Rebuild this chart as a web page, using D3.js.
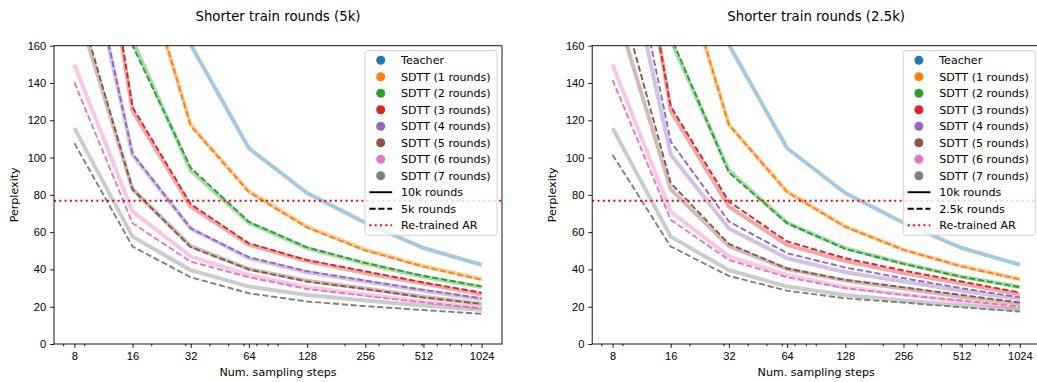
<!DOCTYPE html>
<html lang="en">
<head>
<meta charset="utf-8">
<title>Shorter train rounds</title>
<script src="https://d3js.org/d3.v7.min.js"></script>
<style>
  body { margin: 0; background: #fff; }
  svg { display: block; font-family: "DejaVu Sans", sans-serif; }
  .axis .domain { display: none; }
  .axis text { font-size: 11.1px; fill: #000; }
  .axis line { stroke: #000; stroke-width: 0.9; }
</style>
</head>
<body>
<div id="chart"></div>
<script>
// sampling steps (x) and values
var steps = [8, 16, 32, 64, 128, 256, 512, 1024];
var minorTicks = [7, 9, 20, 30, 40, 50, 60, 70, 80, 90, 200, 300, 400, 500, 600, 700, 800, 900];
var yTicks = [0, 20, 40, 60, 80, 100, 120, 140, 160];

var teacher = [450, 270, 160.5, 105, 81, 65, 51.5, 42.5];

// SDTT 1..7 rounds, 10k rounds (solid, same in both panels)
var sdtt10k = [
  [380, 220, 117.6, 81.8, 63, 50.6, 41.8, 34.8],
  [330, 163, 93, 65, 51.4, 43.2, 36.1, 30.6],
  [314, 125, 73.7, 53.2, 44.5, 38, 32.4, 26.6],
  [243, 101.5, 62, 46, 38.5, 33.5, 28.6, 24],
  [185, 83, 52.5, 40.2, 34, 29.8, 25.3, 21.5],
  [149.8, 71, 47, 37, 30.5, 26.5, 22.8, 19.3],
  [115.8, 57.6, 39.6, 30.8, 26.3, 23.3, 20.6, 18.3]
];

// 5k rounds (dashed, left panel)
var sdtt5k = [
  [390, 222, 117, 81.5, 62.5, 50.2, 41.5, 34.5],
  [340, 160, 94.5, 65.5, 51.8, 43.5, 36.5, 30.9],
  [320, 127, 75, 54, 45, 39, 33, 27.5],
  [245, 102, 62, 46.5, 39, 34, 29, 24.5],
  [190, 83, 52, 40, 33.5, 29.5, 25, 21.5],
  [140.3, 64.8, 44.2, 35.8, 29.5, 25.8, 22.3, 19.2],
  [107.7, 52.3, 35.8, 27.2, 22.8, 20.3, 18.2, 16.2]
];

// 2.5k rounds (dashed, right panel)
var sdtt25k = [
  [390, 222, 117.6, 81.5, 62.8, 50.5, 41.6, 34.6],
  [340, 165, 92, 64.8, 51, 43, 36, 30.5],
  [300, 127.4, 76.4, 55, 46, 39.4, 33.5, 27.6],
  [260, 108.6, 65.7, 48.7, 41, 35.3, 29.9, 25],
  [200, 86.3, 53.7, 40.5, 34.4, 30.4, 26.3, 22.2],
  [141.7, 66.6, 45.1, 35.8, 29.9, 26.3, 23.3, 20],
  [101.5, 52.3, 36.5, 28.6, 24.5, 22.2, 19.7, 17.4]
];

var retrainedAR = 76.8;

var labels = ["Teacher", "SDTT (1 rounds)", "SDTT (2 rounds)", "SDTT (3 rounds)", "SDTT (4 rounds)",
              "SDTT (5 rounds)", "SDTT (6 rounds)", "SDTT (7 rounds)"];
var colors = ["#1f77b4", "#ff7f0e", "#2ca02c", "#d62728", "#9467bd", "#8c564b", "#e377c2", "#7f7f7f"];

var width = 1037, height = 382;
var svg = d3.select("#chart").append("svg")
  .attr("width", width)
  .attr("height", height);

var top_ = 45.7, bottom = 344, panelW = 448;

function drawPanel(x0, title, dashed, dashLabel, id) {
  var pad = Math.pow(2, 0.35);
  var x = d3.scaleLog().base(2).domain([8 / pad, 1024 * pad]).range([0, panelW]);
  var y = d3.scaleLinear().domain([0, 160]).range([bottom - top_, 0]);
  var innerH = bottom - top_;

  var g = svg.append("g").attr("transform", "translate(" + x0 + "," + top_ + ")");

  g.append("clipPath").attr("id", "clip" + id)
    .append("rect").attr("width", panelW).attr("height", innerH);

  var line = d3.line().x((d, i) => x(steps[i])).y(d => y(d));
  var plot = g.append("g").attr("clip-path", "url(#clip" + id + ")");

  plot.append("path")
    .attr("d", line(teacher))
    .attr("fill", "none")
    .attr("stroke", colors[0])
    .attr("stroke-opacity", 0.4)
    .attr("stroke-width", 4)
    .attr("stroke-linejoin", "round");

  sdtt10k.forEach(function(s, i) {
    plot.append("path")
      .attr("d", line(s))
      .attr("fill", "none")
      .attr("stroke", colors[i + 1])
      .attr("stroke-opacity", 0.4)
      .attr("stroke-width", 4)
      .attr("stroke-linejoin", "round");
    plot.append("path")
      .attr("d", line(dashed[i]))
      .attr("fill", "none")
      .attr("stroke", colors[i + 1])
      .attr("stroke-width", 1.9)
      .attr("stroke-dasharray", "6.2,2.7");
  });

  plot.append("line")
    .attr("x1", 0).attr("x2", panelW)
    .attr("y1", y(retrainedAR)).attr("y2", y(retrainedAR))
    .attr("stroke", "#ff0000")
    .attr("stroke-width", 2)
    .attr("stroke-dasharray", "2,3.3");

  // axes
  g.append("g").attr("class", "axis")
    .attr("transform", "translate(0," + innerH + ")")
    .call(d3.axisBottom(x).tickValues(steps).tickFormat(d3.format("d")).tickSize(3.9).tickPadding(3.9).tickSizeOuter(0));
  g.append("g").attr("class", "axis")
    .attr("transform", "translate(0," + innerH + ")")
    .call(d3.axisBottom(x).tickValues(minorTicks).tickFormat("").tickSize(2.2).tickSizeOuter(0));
  g.append("g").attr("class", "axis")
    .call(d3.axisLeft(y).tickValues(yTicks).tickSize(3.9).tickPadding(3.9).tickSizeOuter(0));

  g.append("rect")
    .attr("width", panelW).attr("height", innerH)
    .attr("fill", "none").attr("stroke", "#000").attr("stroke-width", 0.9);

  g.append("text")
    .attr("x", panelW / 2).attr("y", -25)
    .attr("text-anchor", "middle")
    .attr("font-size", "13.3px")
    .text(title);

  g.append("text")
    .attr("x", panelW / 2).attr("y", innerH + 32)
    .attr("text-anchor", "middle")
    .attr("font-size", "11.1px")
    .text("Num. sampling steps");

  g.append("text")
    .attr("transform", "translate(-36," + (innerH / 2) + ") rotate(-90)")
    .attr("text-anchor", "middle")
    .attr("font-size", "11.1px")
    .text("Perplexity");

  // legend
  var lw = 132, lh = 184.5;
  var legend = g.append("g").attr("transform", "translate(" + (panelW - 5 - lw) + ",5)");
  legend.append("rect")
    .attr("width", lw).attr("height", lh)
    .attr("rx", 2.5)
    .attr("fill", "#fff").attr("fill-opacity", 0.8)
    .attr("stroke", "#cccccc").attr("stroke-width", 0.9);

  var rowY = i => 9.5 + i * 16.5;
  labels.forEach(function(l, i) {
    legend.append("circle")
      .attr("cx", 15.7).attr("cy", rowY(i)).attr("r", 4.5)
      .attr("fill", colors[i]);
    legend.append("text")
      .attr("x", 36).attr("y", rowY(i)).attr("dy", "0.36em")
      .attr("font-size", "11.1px")
      .text(l);
  });
  var handles = [
    {label: "10k rounds", stroke: "#000", dash: null, w: 1.9},
    {label: dashLabel, stroke: "#000", dash: "6.2,2.7", w: 1.9},
    {label: "Re-trained AR", stroke: "#ff0000", dash: "2,3.3", w: 2}
  ];
  handles.forEach(function(h, j) {
    var yy = rowY(labels.length + j);
    legend.append("line")
      .attr("x1", 4.4).attr("x2", 27.2)
      .attr("y1", yy).attr("y2", yy)
      .attr("stroke", h.stroke)
      .attr("stroke-width", h.w)
      .attr("stroke-dasharray", h.dash);
    legend.append("text")
      .attr("x", 36).attr("y", yy).attr("dy", "0.36em")
      .attr("font-size", "11.1px")
      .text(h.label);
  });
}

drawPanel(54, "Shorter train rounds (5k)", sdtt5k, "5k rounds", 1);
drawPanel(592.2, "Shorter train rounds (2.5k)", sdtt25k, "2.5k rounds", 2);
</script>
</body>
</html>
